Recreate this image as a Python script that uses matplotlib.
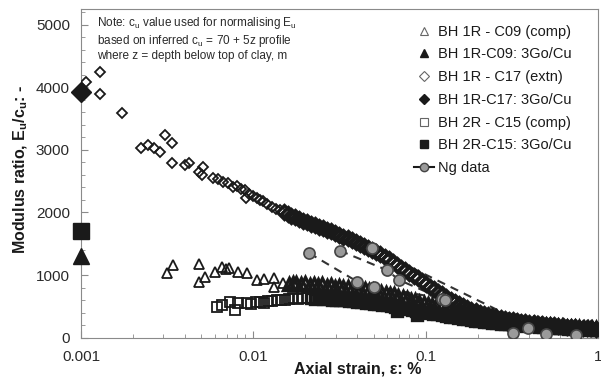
import numpy as np
import matplotlib
matplotlib.use("Agg")
import matplotlib.pyplot as plt
from matplotlib.lines import Line2D
from matplotlib.ticker import MultipleLocator, FixedLocator, FixedFormatter, LogLocator, NullFormatter

plt.rcParams["font.family"] = ["Liberation Sans", "DejaVu Sans"]
plt.rcParams["mathtext.fontset"] = "custom"
plt.rcParams["mathtext.rm"] = "Liberation Sans"
plt.rcParams["mathtext.it"] = "Liberation Sans"
plt.rcParams["mathtext.bf"] = "Liberation Sans:bold"

# BH 1R - C17 (extn): axial strain (%) and Eu/cu
c17_strain = [0.00107, 0.00129, 0.00129, 0.00174, 0.00222, 0.00244, 0.00266, 0.00288,
              0.00306, 0.00337, 0.00337, 0.00403, 0.00421, 0.00486, 0.00502, 0.00513,
              0.00586, 0.0062, 0.0067, 0.0071, 0.0076, 0.0080, 0.0085, 0.0089, 0.0091,
              0.0095, 0.0100, 0.0105, 0.0109, 0.0114, 0.0120, 0.0128, 0.0135, 0.0143,
              0.0150, 0.0158, 0.0166, 0.0175, 0.0185, 0.0195, 0.0205, 0.0216, 0.0228,
              0.0240, 0.0253, 0.0267, 0.0282, 0.0298, 0.0315, 0.0333, 0.0352, 0.0372,
              0.0393, 0.0415, 0.0438, 0.0463, 0.0489, 0.0517, 0.0546, 0.0577, 0.0610,
              0.0645, 0.0681, 0.0720, 0.0761, 0.0804, 0.0850, 0.0898, 0.0949, 0.1003,
              0.106, 0.112, 0.118, 0.125, 0.132, 0.140, 0.148, 0.156, 0.165, 0.174,
              0.184, 0.195, 0.206, 0.218, 0.230, 0.243, 0.257, 0.272, 0.287, 0.304,
              0.321, 0.339, 0.358, 0.379, 0.400, 0.423, 0.447, 0.472, 0.499, 0.528,
              0.558, 0.589, 0.623, 0.658, 0.695, 0.735, 0.776, 0.820, 0.867, 0.916, 0.968]
c17_ratio = [4090, 4250, 3890, 3590, 3025, 3077, 3025, 2966,
             3237, 3114, 2795, 2758, 2795, 2651, 2600, 2731,
             2545, 2530, 2491, 2470, 2411, 2430, 2370, 2358, 2230,
             2300, 2270, 2230, 2199, 2180, 2140, 2092, 2060, 2039,
             2000, 1975, 1940, 1925, 1895, 1870, 1850, 1820, 1805,
             1775, 1750, 1725, 1700, 1670, 1645, 1615, 1590, 1560,
             1530, 1500, 1465, 1430, 1400, 1365, 1330, 1290, 1250,
             1205, 1165, 1120, 1080, 1040, 990, 950, 900, 860,
             815, 770, 730, 690, 650, 610, 575, 540, 500, 470,
             445, 420, 400, 380, 360, 345, 330, 315, 300, 290,
             280, 268, 258, 250, 240, 232, 225, 218, 210, 200,
             195, 188, 180, 175, 170, 165, 160, 155, 150, 147, 143]

# BH 1R - C09 (comp)
c09_strain = [0.00314, 0.00343, 0.00486, 0.00486, 0.00525, 0.0060, 0.00656, 0.00690,
              0.00726, 0.00812, 0.00917, 0.0105, 0.01154, 0.0131, 0.0131, 0.0149,
              0.0160, 0.0170, 0.0178, 0.0190, 0.0200, 0.0212, 0.0224, 0.0237, 0.0251,
              0.0266, 0.0281, 0.0298, 0.0315, 0.0333, 0.0353, 0.0373, 0.0395, 0.0418,
              0.0442, 0.0468, 0.0495, 0.0524, 0.0554, 0.0586, 0.0620, 0.0656, 0.0694,
              0.0734, 0.0777, 0.0822, 0.0870, 0.0920, 0.0973, 0.103, 0.109, 0.115,
              0.122, 0.129, 0.136, 0.144, 0.152, 0.161, 0.170, 0.180, 0.191, 0.202,
              0.213, 0.226, 0.239, 0.253, 0.267, 0.283, 0.299, 0.316, 0.335, 0.354,
              0.375, 0.396, 0.419, 0.444, 0.469, 0.496, 0.525, 0.556, 0.588, 0.622,
              0.658, 0.696, 0.736, 0.779, 0.824, 0.872, 0.922, 0.975]
c09_ratio = [1028, 1161, 1177, 894, 974, 1054, 1134, 1090,
             1108, 1054, 1028, 921, 932, 948, 814, 878,
             860, 880, 868, 850, 870, 845, 860, 835, 850,
             825, 840, 815, 830, 805, 815, 795, 800, 780,
             785, 760, 765, 740, 735, 715, 705, 690, 670,
             650, 630, 610, 595, 575, 560, 540, 520, 505,
             485, 465, 450, 430, 415, 400, 385, 370, 355, 340,
             325, 310, 300, 290, 280, 270, 262, 255, 248, 240,
             233, 226, 220, 214, 208, 202, 196, 190, 185, 180,
             176, 172, 168, 164, 160, 156, 152, 150]

# BH 2R - C15 (comp)
c15_strain = [0.00618, 0.00660, 0.00733, 0.00784, 0.00820, 0.00917, 0.0097, 0.0103,
              0.0109, 0.0115, 0.0122, 0.0129, 0.0137, 0.0145, 0.0153, 0.0162, 0.0171,
              0.0181, 0.0192, 0.0204, 0.0216, 0.0228, 0.0241, 0.0255, 0.0270, 0.0286,
              0.0302, 0.0320, 0.0338, 0.0358, 0.0379, 0.0400, 0.0424, 0.0448, 0.0474,
              0.0502, 0.0531, 0.0561, 0.0594, 0.0628, 0.0665, 0.0685, 0.0703, 0.0744,
              0.0787, 0.0833, 0.0881, 0.089, 0.0932, 0.0986, 0.104, 0.110, 0.117, 0.124,
              0.131, 0.138, 0.146, 0.155, 0.164, 0.173, 0.183, 0.194, 0.205, 0.217,
              0.230, 0.243, 0.257, 0.272, 0.288, 0.305, 0.322, 0.341, 0.361, 0.382,
              0.404, 0.427, 0.452, 0.478, 0.506, 0.535, 0.566, 0.599, 0.634, 0.670,
              0.709, 0.750, 0.794, 0.840, 0.888, 0.940, 0.994]
c15_ratio = [495, 520, 575, 442, 560, 549, 540, 565,
             575, 560, 580, 590, 602, 595, 610, 620, 629,
             615, 635, 629, 640, 625, 630, 615, 620, 605,
             610, 595, 598, 585, 585, 572, 570, 558, 555,
             540, 535, 520, 515, 500, 495, 430, 480, 470,
             455, 445, 430, 360, 418, 405, 395, 385, 372, 360,
             348, 335, 325, 312, 302, 292, 282, 272, 263, 255,
             247, 240, 233, 226, 220, 214, 208, 202, 196, 191,
             186, 181, 176, 171, 166, 161, 157, 153, 149, 145,
             141, 138, 135, 132, 130, 128, 126]

# 3Go/Cu values at 0.001 %
go_strain = 0.001
go_c09 = 1300
go_c17 = 3920
go_c15 = 1700

# Ng data (three tests)
ng1_strain = [0.0211, 0.0402, 0.0504, 0.125, 0.32]
ng1_ratio = [1350, 894, 815, 625, 75]
ng2_strain = [0.0318, 0.0594, 0.0702, 0.13, 0.39, 0.75]
ng2_ratio = [1390, 1081, 921, 600, 150, 45]
ng3_strain = [0.0489, 0.5]
ng3_ratio = [1428, 60]

note = ("Note: c$_\\mathrm{u}$ value used for normalising E$_\\mathrm{u}$\n"
        "based on inferred c$_\\mathrm{u}$ = 70 + 5z profile\n"
        "where z = depth below top of clay, m")

dark = "#1a1a1a"
fig = plt.figure(figsize=(6.01, 3.80), dpi=100)
ax = fig.add_axes([81 / 601, 1 - 337.7 / 380, 517 / 601, 328.7 / 380])


def scatter_open(strain, ratio, marker, size, split):
    # sparse start drawn with thin edges, dense part with heavier edges
    ax.plot(strain[:split], ratio[:split], ls="none", marker=marker, ms=size,
            mfc="none", mec=dark, mew=1.3, zorder=3)
    ax.plot(strain[split:], ratio[split:], ls="none", marker=marker, ms=size + 1.2,
            mfc="none", mec=dark, mew=2.4, zorder=3)


scatter_open(c09_strain, c09_ratio, "^", 7, 16)
scatter_open(c17_strain, c17_ratio, "D", 5.5, 34)
scatter_open(c15_strain, c15_ratio, "s", 6.5, 20)

for s, r in [(ng1_strain, ng1_ratio), (ng2_strain, ng2_ratio), (ng3_strain, ng3_ratio)]:
    # dashed line sits under the data bands, the circles on top
    ax.plot(s, r, ls=(0, (4, 3)), color="#333333", lw=1.5, zorder=2)
    ax.plot(s, r, ls="none", marker="o", ms=8, mfc="#9a9a9a", mec="#444444",
            mew=1.2, zorder=4)

ax.plot([go_strain], [go_c09], ls="none", marker="^", ms=11, color=dark, clip_on=False, zorder=5)
ax.plot([go_strain], [go_c17], ls="none", marker="D", ms=10, color=dark, clip_on=False, zorder=5)
ax.plot([go_strain], [go_c15], ls="none", marker="s", ms=11, color=dark, clip_on=False, zorder=5)

ax.set_xscale("log")
ax.set_xlim(0.001, 1)
ax.set_ylim(0, 5250)
ax.yaxis.set_major_locator(MultipleLocator(1000))
ax.yaxis.set_minor_locator(MultipleLocator(200))
ax.xaxis.set_major_locator(FixedLocator([0.001, 0.01, 0.1, 1]))
ax.xaxis.set_major_formatter(FixedFormatter(["0.001", "0.01", "0.1", "1"]))
ax.xaxis.set_minor_locator(LogLocator(base=10, subs=np.arange(2, 10)))
ax.xaxis.set_minor_formatter(NullFormatter())

for sp in ax.spines.values():
    sp.set_color("#8a8a8a")
ax.tick_params(which="both", direction="in", colors="#8a8a8a", labelcolor="#2a2a2a",
               labelsize=11)
ax.tick_params(which="major", length=5)
ax.tick_params(which="minor", length=3)
ax.tick_params(axis="x", pad=9)
ax.tick_params(axis="y", pad=8)

ax.set_xlabel("Axial strain, ε: %", fontsize=11.5, fontweight="bold", color=dark)
ax.xaxis.set_label_coords(0.535, -0.072)
ax.set_ylabel("Modulus ratio, E$_\\mathbf{u}$/c$_\\mathbf{u}$: -", fontsize=11.5,
              fontweight="bold", color=dark)
ax.yaxis.set_label_coords(-0.098, 0.513)

fig.text(97 / 601, 1 - 15 / 380, note, fontsize=8.5, va="top", ha="left",
         color="#2a2a2a", linespacing=1.15)

handles = [
    Line2D([], [], ls="none", marker="^", ms=6, mfc="white", mec="#666666", mew=0.8),
    Line2D([], [], ls="none", marker="^", ms=6, color=dark),
    Line2D([], [], ls="none", marker="D", ms=5, mfc="white", mec="#666666", mew=0.8),
    Line2D([], [], ls="none", marker="D", ms=5, color=dark),
    Line2D([], [], ls="none", marker="s", ms=6, mfc="white", mec="#666666", mew=0.8),
    Line2D([], [], ls="none", marker="s", ms=6, color=dark),
    Line2D([], [], ls="-", color=dark, lw=1.5, marker="o", ms=6, mfc="#9a9a9a", mec="#444444"),
]
labels = ["BH 1R - C09 (comp)", "BH 1R-C09: 3Go/Cu", "BH 1R - C17 (extn)",
          "BH 1R-C17: 3Go/Cu", "BH 2R - C15 (comp)", "BH 2R-C15: 3Go/Cu", "Ng data"]
leg = fig.legend(handles, labels, loc="upper left", bbox_to_anchor=(413.8 / 601, 1 - 24.7 / 380),
                 frameon=False, fontsize=10.5, handlelength=1.4, handletextpad=0.25,
                 labelspacing=0.6, borderpad=0, borderaxespad=0)
for t in leg.get_texts():
    t.set_color(dark)

fig.savefig("out.png", dpi=100)
